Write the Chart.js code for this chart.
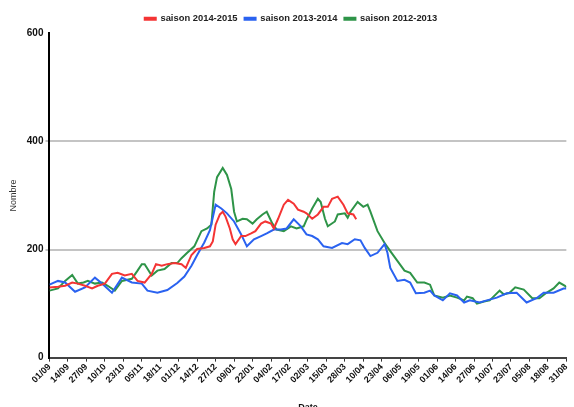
<!DOCTYPE html>
<html>
<head>
<meta charset="utf-8">
<script src="https://cdn.jsdelivr.net/npm/chart.js@4.4.0/dist/chart.umd.min.js"></script>
<style>
  body { margin: 0; background: #fff; }
  #wrap { width: 574px; height: 407px; }
</style>
</head>
<body>
<div id="wrap"><canvas id="myChart"></canvas></div>
<script>
const tickLabels = ["01/09", "14/09", "27/09", "10/10", "23/10", "05/11", "18/11", "01/12", "14/12",
  "27/12", "09/01", "22/01", "04/02", "17/02", "02/03", "15/03", "28/03", "10/04", "23/04",
  "06/05", "19/05", "01/06", "14/06", "27/06", "10/07", "23/07", "05/08", "18/08", "31/08"];

// day index since 01/09 and value, per season
const daysRed = [0, 6, 11, 16, 20, 25, 30, 34, 39, 44, 48, 53, 58, 62, 67, 72, 75, 79, 83, 88,
  93, 96, 100, 104, 109, 113, 115, 117, 120, 122, 124, 127, 129, 131, 135, 138, 142, 145, 149, 152,
  156, 158, 161, 165, 168, 172, 175, 179, 181, 185, 189, 193, 196, 199, 203, 207, 210, 214, 216];
const valsRed = [130, 131, 133, 139, 137, 133, 128, 133, 137, 155, 157, 152, 155, 142, 139, 155, 173, 170, 173, 175,
  173, 166, 190, 201, 203, 206, 215, 246, 265, 270, 261, 239, 219, 210, 225, 225, 230, 234, 248, 252,
  248, 239, 257, 283, 292, 285, 274, 270, 267, 257, 265, 279, 279, 294, 298, 283, 267, 265, 256];

const daysBlue = [0, 6, 11, 18, 25, 32, 37, 44, 51, 58, 65, 69, 76, 83, 90, 95, 100, 104, 109, 113,
  117, 121, 125, 130, 135, 139, 144, 149, 153, 158, 163, 167, 172, 177, 181, 185, 189, 193, 199, 206,
  210, 215, 219, 222, 226, 231, 236, 238, 240, 245, 250, 254, 258, 264, 268, 271, 277, 282, 287, 292,
  296, 303, 308, 315, 322, 329, 336, 343, 348, 355, 362, 364];
const valsBlue = [135, 142, 139, 122, 130, 148, 137, 120, 148, 139, 137, 124, 120, 125, 138, 150, 170, 190, 213, 236,
  283, 276, 267, 252, 228, 206, 219, 225, 230, 237, 237, 239, 256, 243, 228, 225, 219, 206, 203, 212,
  210, 219, 217, 203, 188, 194, 210, 194, 166, 142, 144, 139, 119, 120, 124, 115, 106, 119, 115, 102,
  106, 102, 106, 111, 119, 120, 102, 110, 120, 120, 128, 128];

const daysGreen = [0, 6, 11, 16, 20, 24, 27, 32, 37, 41, 46, 51, 58, 62, 65, 67, 72, 76, 81, 86,
  90, 93, 97, 102, 107, 111, 114, 116, 118, 122, 125, 128, 130, 132, 136, 139, 143, 146, 150, 153,
  157, 160, 165, 170, 174, 179, 181, 185, 189, 191, 194, 196, 201, 203, 208, 210, 212, 217, 221, 224,
  226, 231, 236, 240, 245, 250, 254, 259, 264, 268, 271, 277, 282, 287, 292, 294, 298, 301, 306, 310,
  317, 320, 324, 328, 334, 340, 345, 350, 355, 359, 363, 364];
const valsGreen = [124, 128, 142, 153, 137, 139, 142, 137, 139, 133, 124, 142, 146, 161, 173, 173, 152, 161, 164, 175,
  175, 184, 194, 206, 234, 239, 246, 307, 334, 351, 338, 312, 270, 252, 257, 256, 248, 256, 265, 270,
  248, 237, 234, 243, 239, 243, 255, 276, 294, 288, 257, 243, 252, 265, 267, 259, 270, 288, 279, 283,
  270, 234, 212, 197, 179, 161, 157, 139, 139, 135, 115, 111, 115, 111, 106, 113, 110, 100, 104, 106,
  124, 117, 120, 130, 126, 110, 110, 120, 128, 139, 133, 130];

const seriesNames = ["saison 2014-2015", "saison 2013-2014", "saison 2012-2013"];

function toPoints (days, vals) {
  return days.map((d, i) => ({ x: d, y: vals[i] }));
}

function makeSet (label, days, vals, color) {
  return {
    label: label,
    data: toPoints(days, vals),
    borderColor: color,
    backgroundColor: color,
    borderWidth: 2,
    pointRadius: 0,
    tension: 0,
    fill: false
  };
}

Chart.defaults.font.family = "'Liberation Sans', Arial, sans-serif";
Chart.defaults.color = "#111";
Chart.defaults.animation = false;

let ctx   = document.getElementById("myChart");
let chart = new Chart(ctx, {
  type: "line",
  data: {
    datasets: [
      makeSet(seriesNames[0], daysRed, valsRed, "#f43434"),
      makeSet(seriesNames[1], daysBlue, valsBlue, "#2a62f0"),
      makeSet(seriesNames[2], daysGreen, valsGreen, "#2e9448")
    ]
  },
  options: {
    responsive: true,
    maintainAspectRatio: false,
    layout: { padding: { left: 8, right: 0, top: 7, bottom: -6 } },
    plugins: {
      legend: {
        position: "top",
        labels: {
          boxWidth: 11,
          boxHeight: 2,
          padding: 7,
          color: "#222",
          font: { size: 9.4, weight: "bold" }
        }
      },
      tooltip: { enabled: false }
    },
    scales: {
      x: {
        type: "linear",
        min: 0,
        max: 364,
        border: { color: "#444", width: 2 },
        grid: { drawOnChartArea: false, color: "#333", tickLength: 4, lineWidth: 1 },
        ticks: {
          stepSize: 13,
          autoSkip: false,
          maxRotation: 45,
          minRotation: 45,
          padding: 0,
          font: { size: 9, weight: "bold" },
          callback: (v) => tickLabels[Math.round(v / 13)]
        },
        title: {
          display: true,
          text: "Date",
          padding: { top: 17, bottom: 0 },
          font: { size: 9, weight: "bold" }
        }
      },
      y: {
        min: 0,
        max: 600,
        border: { color: "#000", width: 2 },
        grid: {
          color: (c) => (c.tick && (c.tick.value === 200 || c.tick.value === 400)) ? "#c4c4c4" : "rgba(0,0,0,0)",
          lineWidth: 2,
          tickLength: 4
        },
        ticks: {
          stepSize: 200,
          padding: 2,
          font: { size: 10, weight: "bold" }
        },
        title: {
          display: true,
          text: "Nombre",
          padding: { top: 0, bottom: 6 },
          color: "#333",
          font: { size: 9 }
        }
      }
    }
  }
});
</script>
</body>
</html>
